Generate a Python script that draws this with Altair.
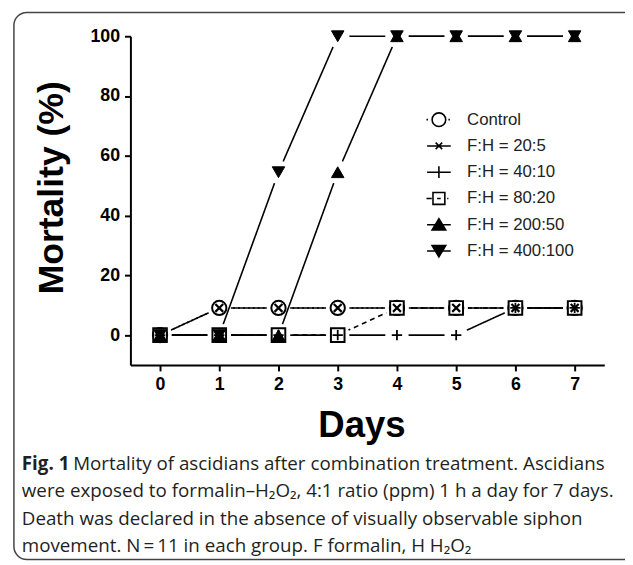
import altair as alt
import pandas as pd

# ---- data (N = 11, so one death = 9.09 %) ----
days = [0, 1, 2, 3, 4, 5, 6, 7]
series_names = ["Control", "F:H = 20:5", "F:H = 40:10", "F:H = 80:20",
                "F:H = 200:50", "F:H = 400:100"]
control = [0, 9.09, 9.09, 9.09, 9.09, 9.09, 9.09, 9.09]
fh_20_5 = [0, 9.09, 9.09, 9.09, 9.09, 9.09, 9.09, 9.09]
fh_40_10 = [0, 0, 0, 0, 0, 0, 9.09, 9.09]
fh_80_20 = [0, 0, 0, 0, 9.09, 9.09, 9.09, 9.09]
fh_200_50 = [0, 0, 0, 54.5, 100, 100, 100, 100]
fh_400_100 = [0, 0, 54.5, 100, 100, 100, 100, 100]
x_ticks = [0, 1, 2, 3, 4, 5, 6, 7]
y_ticks = [0, 20, 40, 60, 80, 100]

caption_lines = [
    "Mortality of ascidians after combination treatment. Ascidians",
    "were exposed to formalin\u2013H\u2082O\u2082, 4:1 ratio (ppm) 1 h a day for 7 days.",
    "Death was declared in the absence of visually observable siphon",
    "movement. N\u2009=\u200911 in each group. F formalin, H H\u2082O\u2082",
]

values = [control, fh_20_5, fh_40_10, fh_80_20, fh_200_50, fh_400_100]
rows = []
for name, vals in zip(series_names, values):
    for d, v in zip(days, vals):
        rows.append({"series": name, "day": d, "mortality": v})
df = pd.DataFrame(rows)

FONT = "Liberation Sans"
xs = alt.Scale(domain=[-0.5, 7.5], nice=False, zero=False)
ys = alt.Scale(domain=[-10, 100], nice=False, zero=False)

X = alt.X("day:Q", scale=xs,
          axis=alt.Axis(values=x_ticks, format="d", title="Days", titleX=234,
                        titleY=72, titleBaseline="alphabetic", titleAlign="center",
                        titleFontSize=37, labelPadding=5))
Y = alt.Y("mortality:Q", scale=ys,
          axis=alt.Axis(values=y_ticks, title="Mortality (%)", titleX=-69,
                        titleY=153, titleAngle=270, titleAlign="center",
                        titleBaseline="alphabetic", titleFontSize=36,
                        labelPadding=5))

dash = {"Control": [2, 3], "F:H = 80:20": [5, 4]}
draw_order = ["Control", "F:H = 20:5", "F:H = 80:20", "F:H = 40:10",
              "F:H = 200:50", "F:H = 400:100"]

layers = []
base = alt.Chart(df)
# lines with white halos that leave gaps near markers
for name in draw_order:
    line = base.transform_filter(alt.datum.series == name).mark_line(
        color="black", strokeWidth=1.6, strokeDash=dash.get(name, [1, 0])
    ).encode(x=X, y=Y)
    halo = base.transform_filter(alt.datum.series == name).mark_point(
        shape="circle", size=560, filled=True, fill="white", opacity=1,
        strokeWidth=0
    ).encode(x=X, y=Y)
    layers += [line, halo]

x_path = "M-1,-1L1,1M1,-1L-1,1"
plus_path = "M-1,0L1,0M0,-1L0,1"
marker_style = {
    "Control": dict(shape="circle", size=210, fill="white", strokeWidth=2),
    "F:H = 80:20": dict(shape="square", size=190, fill="white", strokeWidth=2),
    "F:H = 200:50": dict(shape="triangle-up", size=160, fill="black", strokeWidth=1),
    "F:H = 400:100": dict(shape="triangle-down", size=160, fill="black", strokeWidth=1),
    "F:H = 20:5": dict(shape=x_path, size=64, fill="black", strokeWidth=2.2),
    "F:H = 40:10": dict(shape=plus_path, size=110, fill="black", strokeWidth=1.8),
}
for name in ["Control", "F:H = 80:20", "F:H = 200:50", "F:H = 400:100",
             "F:H = 20:5", "F:H = 40:10"]:
    st = marker_style[name]
    layers.append(
        base.transform_filter(alt.datum.series == name).mark_point(
            shape=st["shape"], size=st["size"], filled=False,
            fill=st["fill"], stroke="black", strokeWidth=st["strokeWidth"],
            opacity=1
        ).encode(x=X, y=Y)
    )

# legend-only layer (points placed outside the clipped plot area)
legend_paths = [
    "M-2.1,0L-1.85,0M1.6,0L1.85,0M1.15,0A1.15,1.15 0 1,1 -1.15,0A1.15,1.15 0 1,1 1.15,0Z",
    "M-2,0L2,0M-0.55,-0.55L0.55,0.55M0.55,-0.55L-0.55,0.55",
    "M-2,0L2,0M0,-1L0,1",
    "M-2.1,0L-1.2,0M1.4,0L1.6,0M-0.3,0L0.3,0M-1,-1L1,-1L1,1L-1,1Z",
    "M-2,0L2,0M0,-1L1.15,0.9L-1.15,0.9Z",
    "M-2,0L2,0M0,1L1.15,-0.9L-1.15,-0.9Z",
]
legend_fills = ["white", "black", "black", "white", "black", "black"]
legend_strokes = ["black"] * 6


def make_legend():
    return alt.Legend(orient="none", legendX=304, legendY=76, title=None,
                      labelFont=FONT, labelFontSize=17, labelColor="#222",
                      symbolStrokeWidth=1.6, symbolSize=144, labelOffset=20,
                      rowPadding=6.6, padding=0, symbolOpacity=1, gridAlign="all")


leg_df = pd.DataFrame({"series": series_names, "day": [-5] * 6,
                       "mortality": [50] * 6})
legend_layer = alt.Chart(leg_df).mark_point(
    clip=True, strokeWidth=1.6, size=144, opacity=1
).encode(
    x=alt.X("day:Q", scale=xs),
    y=alt.Y("mortality:Q", scale=ys),
    shape=alt.Shape("series:N", scale=alt.Scale(domain=series_names, range=legend_paths),
                    legend=make_legend()),
    fill=alt.Fill("series:N", scale=alt.Scale(domain=series_names, range=legend_fills),
                  legend=make_legend()),
    stroke=alt.Stroke("series:N", scale=alt.Scale(domain=series_names, range=legend_strokes),
                      legend=make_legend()),
)
layers.append(legend_layer)

# caption and frame
one = alt.Data(values=[{"k": 1}])
frame = alt.Chart(one).mark_rect(
    filled=False, stroke="#444", strokeWidth=1.5, cornerRadius=13, fillOpacity=0
).encode(x=alt.value(-118), x2=alt.value(560), y=alt.value(-24), y2=alt.value(530))
layers.insert(0, frame)

CAP_FONT = "Open Sans"
CAP_SIZE = 19
cap_y = [433, 461, 489, 516]
layers.append(alt.Chart(one).mark_text(
    text="Fig. 1", font=CAP_FONT, fontWeight="bold", fontSize=CAP_SIZE, align="left",
    baseline="middle", color="#231f20"
).encode(x=alt.value(-110), y=alt.value(cap_y[0])))
cap_x = [-58, -110, -110, -110]
for i, line_txt in enumerate(caption_lines):
    layers.append(alt.Chart(one).mark_text(
        text=line_txt, font=CAP_FONT, fontSize=CAP_SIZE, align="left",
        baseline="middle", color="#231f20"
    ).encode(x=alt.value(cap_x[i]), y=alt.value(cap_y[i])))

chart = alt.layer(*layers).properties(
    width=480, height=333,
    autosize=alt.AutoSizeParams(type="none"),
    padding={"left": 124, "top": 25, "right": 21, "bottom": 198},
).configure_view(stroke=None).configure_axis(
    domainColor="black", domainWidth=2, tickColor="black", tickWidth=2,
    tickSize=6, labelFont=FONT, labelFontWeight="bold", labelFontSize=18,
    labelColor="black", titleFont=FONT, titleFontWeight="bold",
    titleColor="black", grid=False
)

chart.save("out.html", embed_options={"renderer": "svg", "actions": False})
